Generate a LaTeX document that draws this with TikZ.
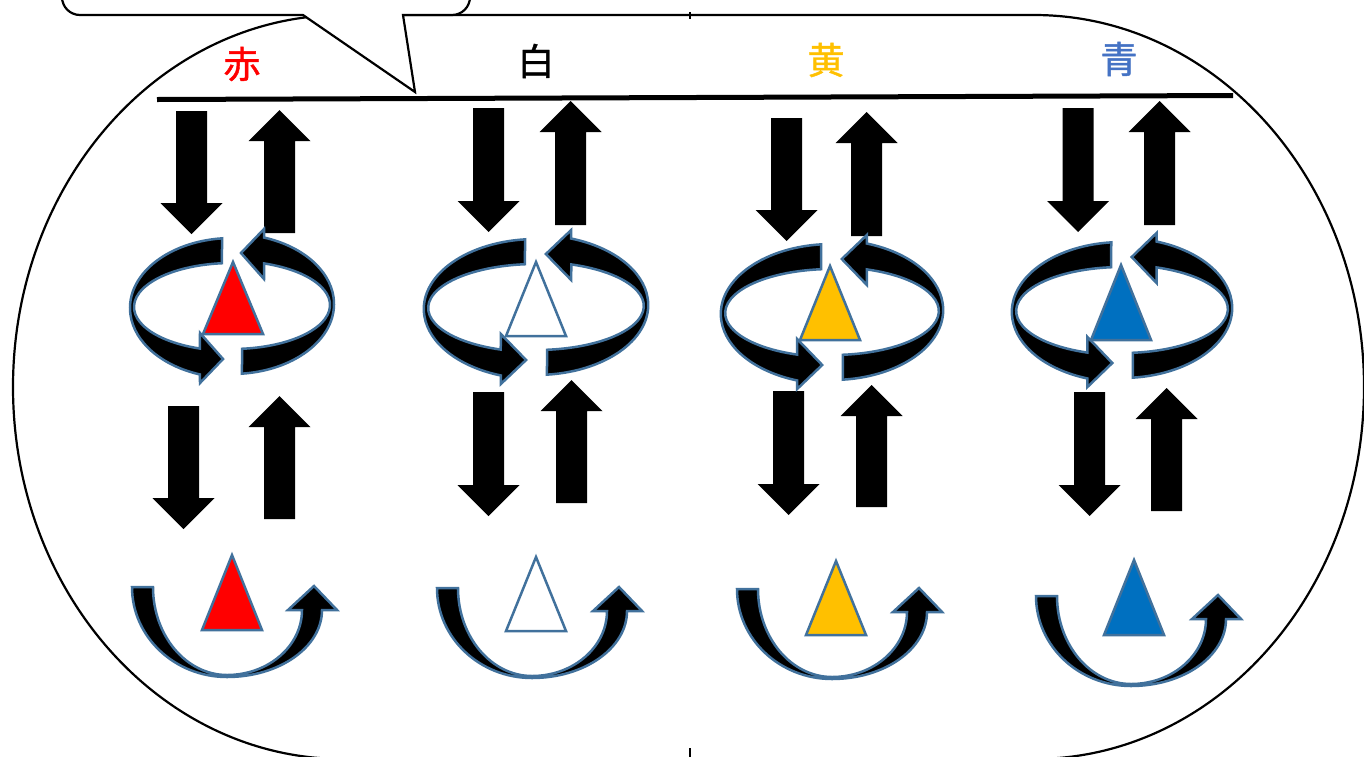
\documentclass[tikz,border=0pt]{standalone}
\usepackage{fontspec}
\newfontfamily\cjk[FakeBold=1.2]{Noto Sans CJK JP}
\definecolor{outl}{HTML}{41719C}
\definecolor{kred}{HTML}{FF0000}
\definecolor{kyel}{HTML}{FFC000}
\definecolor{kblu}{HTML}{0070C0}
\definecolor{tblu}{HTML}{4472C4}
\newcommand{\downblk}[3]{%
  \fill (#1-15.5,#2) -- (#1+15.5,#2) -- (#1+15.5,#3-31) -- (#1+31,#3-31) -- (#1,#3) -- (#1-31,#3-31) -- (#1-15.5,#3-31) -- cycle;}
\newcommand{\upblk}[3]{%
  \fill (#1-15.5,#3) -- (#1+15.5,#3) -- (#1+15.5,#2+31) -- (#1+31,#2+31) -- (#1,#2) -- (#1-31,#2+31) -- (#1-15.5,#2+31) -- cycle;}
\newcommand{\halfring}{%
  \path[ringstyle] ([shift={(0,2)}]264.4:102 and 70) arc[start angle=264.4, end angle=108.3, x radius=102, y radius=70]
    -- (-32,77) -- (-9,53) -- (-32,27)
    -- ([shift={(0,1)}]109.1:98 and 44) arc[start angle=109.1, end angle=264.1, x radius=98, y radius=44] -- cycle;}
\newcommand{\ringarrow}[3]{%
  \begin{scope}[shift={(#1,#2)}, xscale=#3]
    \halfring
    \begin{scope}[rotate=180]\halfring\end{scope}
  \end{scope}}
\newcommand{\uarrow}[2]{%
  \begin{scope}[shift={(#1,#2)}]
    \path[ringstyle] (-95,0) arc[start angle=180, end angle=90, x radius=95, y radius=90]
      arc[start angle=90, end angle=0, x radius=95, y radius=67]
      -- (110,23) -- (87,-1) -- (61,23) -- (75,23)
      arc[start angle=0, end angle=90, x radius=75, y radius=65]
      arc[start angle=90, end angle=180, x radius=74, y radius=88] -- cycle;
  \end{scope}}
\newcommand{\tri}[5]{%
  \path[tristyle, fill=#5] (#1,#2) -- (#1+30,#3) -- (#1-30,#3) -- cycle;}
\begin{document}
\begin{tikzpicture}[x=1pt,y=-1pt,
  ringstyle/.style={fill=black, draw=outl, line width=2.5pt, line join=miter},
  tristyle/.style={draw=outl, line width=2.5pt, line join=miter},
  hdr/.style={font=\cjk\fontsize{37}{40}\selectfont, inner sep=0pt}]
\useasboundingbox (0,0) rectangle (1364,756);
% big rounded outline
\draw[line width=2.2pt] (343,15) -- (1034,15)
  arc[start angle=-90, end angle=90, x radius=330, y radius=372]
  -- (343,759) arc[start angle=90, end angle=270, x radius=330, y radius=372] -- cycle;
% ticks
\coordinate (t1) at (690,12); \coordinate (t2) at (690,19);
\coordinate (t3) at (690,748); \coordinate (t4) at (690,757);
\draw[line width=2.5pt] (t1) -- (t2);
\draw[line width=2.5pt] (t3) -- (t4);
% callout
\draw[line width=2.2pt, fill=white, line join=miter] (62,-60) -- (62,-3) arc[start angle=180, end angle=90, radius=18]
  -- (303,15) -- (415,92) -- (403,15) -- (452,15) arc[start angle=90, end angle=0, radius=18] -- (470,-60) -- cycle;
% header line
\coordinate (l1) at (157,99.5); \coordinate (l2) at (1233,95.5);
\draw[line width=5pt] (l1) -- (l2);
% headers
\node[hdr, text=kred] (h1) at (242,64) {赤};
\node[hdr, text=black] (h2) at (536,61) {白};
\node[hdr, text=kyel] (h3) at (826,60) {黄};
\node[hdr, text=tblu] (h4) at (1119,59) {青};
% block arrows top
\downblk{191.5}{111}{234} \upblk{279.5}{110}{233}
\downblk{488.5}{108}{232} \upblk{570.5}{101}{225}
\downblk{786.5}{118}{241} \upblk{866.5}{112}{236}
\downblk{1078}{108}{232} \upblk{1159.5}{101}{225}
% block arrows lower
\downblk{183.5}{406}{529} \upblk{279.5}{396}{519}
\downblk{488.5}{392}{516} \upblk{571.5}{380}{503}
\downblk{788.5}{391}{515} \upblk{871.5}{385}{507}
\downblk{1089.5}{392}{516} \upblk{1166.5}{388}{511}
% ring arrows
\ringarrow{232}{306}{1}
\ringarrow{536}{307}{1.1}
\ringarrow{832}{312}{1.09}
\ringarrow{1122}{310}{1.08}
\tri{233}{262}{334}{30}{kred}
\tri{536}{262}{336}{30}{white}
\tri{830}{266}{340}{30}{kyel}
\tri{1121}{265}{340}{30}{kblu}
% U arrows
\uarrow{227}{587}
\uarrow{532}{588}
\uarrow{832}{589}
\uarrow{1131}{596}
\tri{232}{555}{630}{30}{kred}
\tri{536}{557}{631}{30}{white}
\tri{836}{561}{635}{30}{kyel}
\tri{1134}{560}{635}{30}{kblu}
\end{tikzpicture}
\end{document}
